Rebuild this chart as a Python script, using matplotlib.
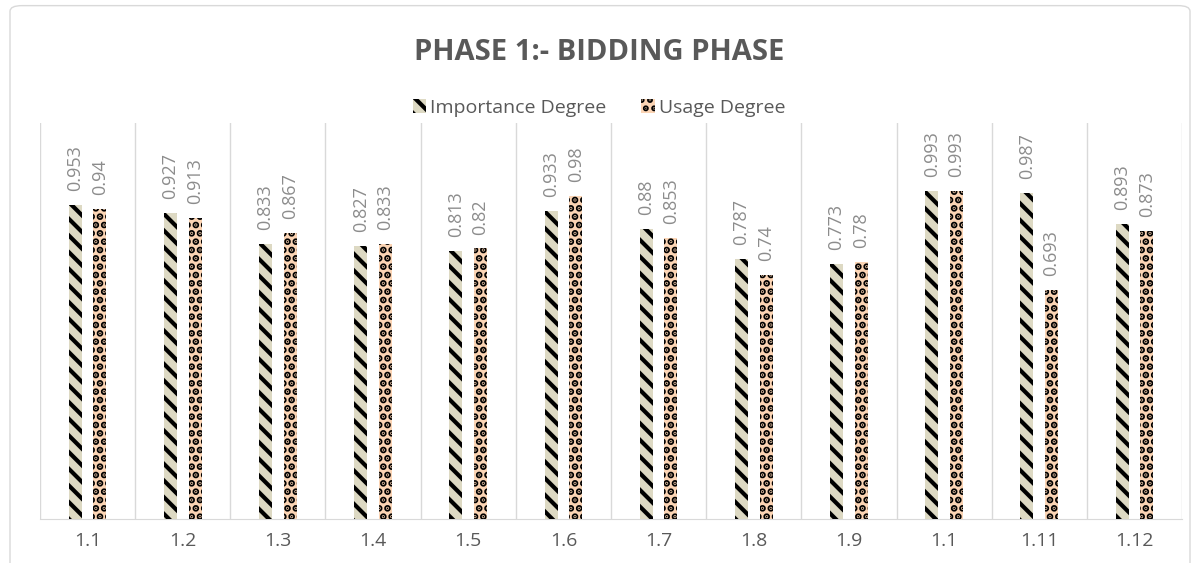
import numpy as np
import matplotlib.pyplot as plt
from matplotlib.patches import FancyBboxPatch

plt.rcParams['font.family'] = ['Open Sans', 'DejaVu Sans']
plt.rcParams['hatch.linewidth'] = 3.0

# Criteria and survey scores
categories = ["1.1", "1.2", "1.3", "1.4", "1.5", "1.6",
              "1.7", "1.8", "1.9", "1.1", "1.11", "1.12"]
importance = [0.953, 0.927, 0.833, 0.827, 0.813, 0.933,
              0.88, 0.787, 0.773, 0.993, 0.987, 0.893]
usage = [0.94, 0.913, 0.867, 0.833, 0.82, 0.98,
         0.853, 0.74, 0.78, 0.993, 0.693, 0.873]

grey = '#8c8c8c'
fig = plt.figure(figsize=(11.98, 5.63), dpi=100)
fig.patches.append(FancyBboxPatch((10 / 1198, -0.05), 1180 / 1198, 1.04,
                                  boxstyle="round,pad=0,rounding_size=0.01",
                                  transform=fig.transFigure, facecolor='white',
                                  edgecolor='#d9d9d9', linewidth=1.0, zorder=-10))

ax = fig.add_axes([40 / 1198, 44 / 563, 1142 / 1198, 396 / 563])
ax.patch.set_alpha(0)

x = np.arange(len(categories))
w = 0.137
off = 0.13
b1 = ax.bar(x - off, importance, w, color='#ddd9c3', edgecolor='black',
            linewidth=0, hatch='\\\\', label='Importance Degree', zorder=3)
b2 = ax.bar(x + off, usage, w, color='#fbd4b4', edgecolor='black',
            linewidth=0, hatch='..', label='Usage Degree', zorder=3)
for r in b2:
    try:
        r.set_hatch_linewidth(3.5)
    except AttributeError:
        pass

for bars, vals in ((b1, importance), (b2, usage)):
    for rect, v in zip(bars, vals):
        ax.annotate(f"{v:g}", (rect.get_x() + rect.get_width() / 2, v),
                    xytext=(0, 10), textcoords='offset points',
                    rotation=90, ha='center', va='bottom',
                    fontsize=13, color=grey)

ax.set_xlim(-0.5, len(categories) - 0.5)
ax.set_ylim(0, 1.2)
ax.set_yticks([])
ax.set_xticks(x)
ax.set_xticklabels(categories, fontsize=14, color='#595959')
ax.tick_params(axis='x', length=0, pad=9)
for b in np.arange(-0.5, len(categories), 1.0):
    ax.axvline(b, color='#d9d9d9', linewidth=1.0, zorder=1)
for s in ['top', 'right', 'left']:
    ax.spines[s].set_visible(False)
ax.spines['bottom'].set_color('#d9d9d9')

fig.text(0.5, 1 - 52 / 563, "PHASE 1:- BIDDING PHASE", ha='center', va='center',
         fontsize=21, fontweight='bold', color='#595959')
fig.legend(handles=[b1, b2], loc='center', bbox_to_anchor=(0.5, 1 - 108 / 563),
           ncol=2, frameon=False, fontsize=14, handlelength=0.7, handleheight=0.7,
           handletextpad=0.2, columnspacing=1.8, labelcolor='#595959')

fig.savefig('out.png', dpi=100)
